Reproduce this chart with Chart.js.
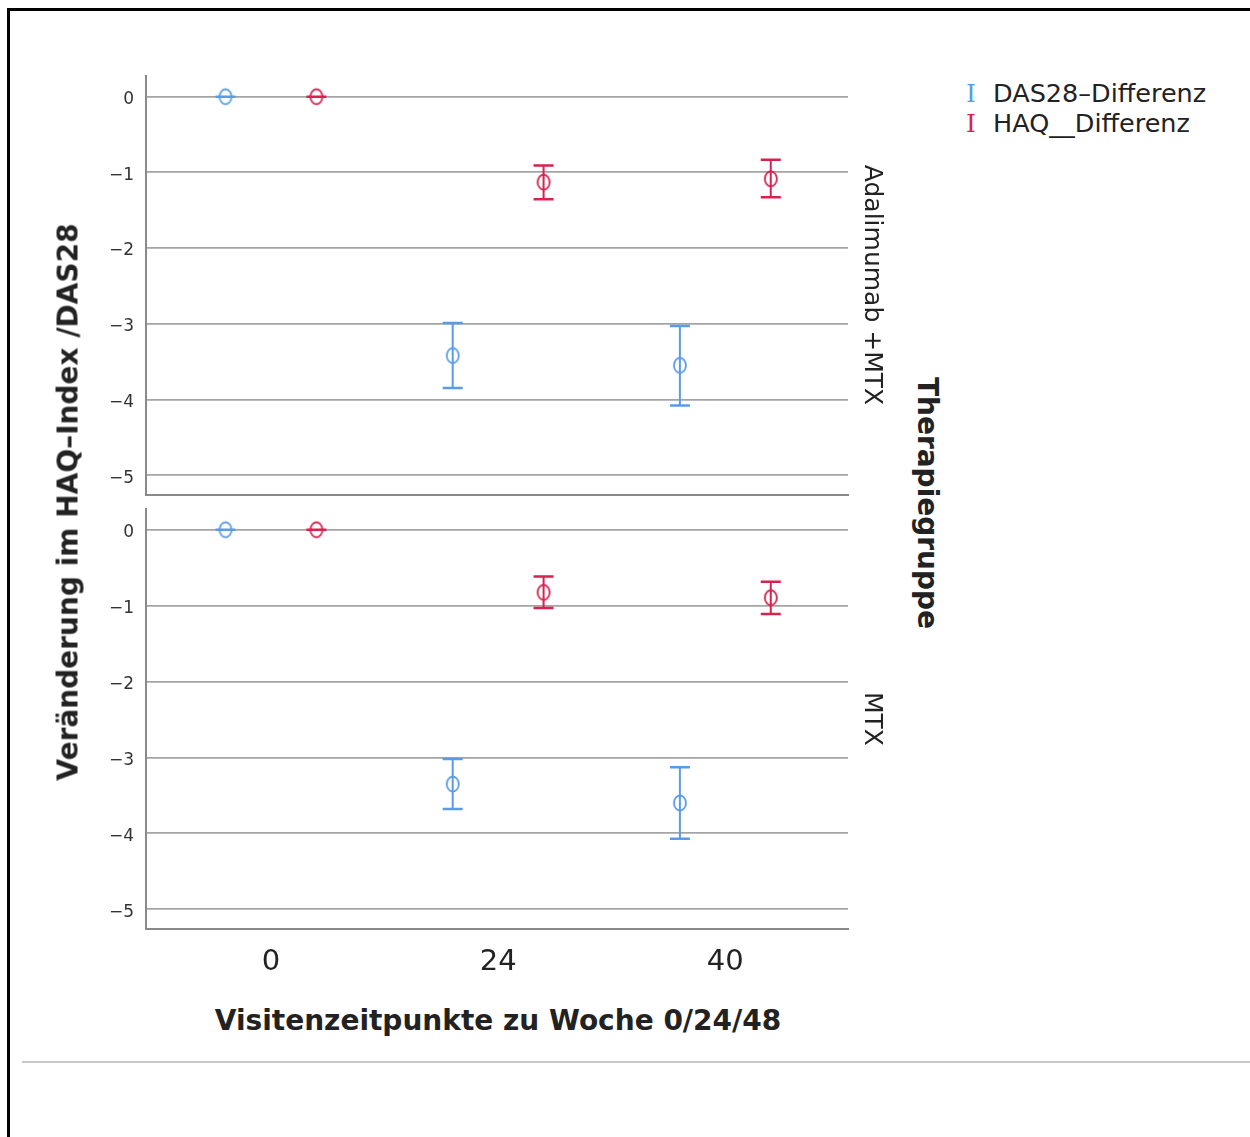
<!DOCTYPE html>
<html>
<head>
<meta charset="utf-8">
<script src="https://cdn.jsdelivr.net/npm/chart.js@4.4.1/dist/chart.umd.min.js"></script>
<style>
  body { margin: 0; background: #fff; width: 1250px; height: 1137px; position: relative; overflow: hidden; font-family: "DejaVu Sans", sans-serif; color: #222; }
  .abs { position: absolute; }
  .rot { position: absolute; white-space: nowrap; transform: translate(-50%, -50%) rotate(90deg); }
  .rotl { position: absolute; white-space: nowrap; transform: translate(-50%, -50%) rotate(-90deg); }
  .legend-row { position: absolute; left: 966px; font-size: 25.5px; white-space: nowrap; line-height: 30px; }
  .legend-row .ibar { font-family: "DejaVu Serif", serif; font-size: 25px; display: inline-block; width: 27px; }
</style>
</head>
<body>
<div class="abs" style="left:7px;top:8px;width:1243px;height:3px;background:#000"></div>
<div class="abs" style="left:7px;top:8px;width:3px;height:1129px;background:#000"></div>
<div class="abs" style="left:22px;top:1061px;width:1228px;height:2px;background:#c8c8c8"></div>

<canvas id="topChart" class="abs" width="870" height="463" style="left:0;top:54px"></canvas>
<canvas id="botChart" class="abs" width="870" height="502" style="left:0;top:487px"></canvas>

<div class="rotl" style="left:68px;top:502px;font-size:28px;font-weight:bold">Veränderung im HAQ–Index /DAS28</div>
<div class="rot" style="left:873px;top:285px;font-size:25px">Adalimumab +MTX</div>
<div class="rot" style="left:873px;top:719px;font-size:25px">MTX</div>
<div class="rot" style="left:927px;top:503px;font-size:28px;font-weight:bold">Therapiegruppe</div>
<div class="abs" style="left:498px;top:1020px;transform:translate(-50%,-50%);white-space:nowrap;font-size:28px;font-weight:bold">Visitenzeitpunkte zu Woche 0/24/48</div>

<div class="legend-row" style="top:78px"><span class="ibar" style="color:#5a9be6">I</span>DAS28–Differenz</div>
<div class="legend-row" style="top:108px"><span class="ibar" style="color:#d7214e">I</span>HAQ__Differenz</div>

<script>
const weeks = ['0', '24', '40'];
const yTicks = [0, -1, -2, -3, -4, -5];

// Adalimumab + MTX
const dasAdaMean = [0, -3.42, -3.55];
const dasAdaLow = [0, -3.85, -4.08];
const dasAdaHigh = [0, -2.99, -3.03];
const haqAdaMean = [0, -1.13, -1.085];
const haqAdaLow = [0, -1.355, -1.33];
const haqAdaHigh = [0, -0.91, -0.835];

// MTX
const dasMtxMean = [0, -3.35, -3.6];
const dasMtxLow = [0, -3.68, -4.07];
const dasMtxHigh = [0, -3.02, -3.13];
const haqMtxMean = [0, -0.825, -0.895];
const haqMtxLow = [0, -1.03, -1.11];
const haqMtxHigh = [0, -0.617, -0.685];

const blue = '#5a9be6';
const red = '#d7214e';
const dodge = 0.2;

function makeMarker(color) {
    const c = document.createElement('canvas');
    c.width = 16; c.height = 20;
    const g = c.getContext('2d');
    g.strokeStyle = color;
    g.lineWidth = 1.8;
    g.beginPath();
    g.ellipse(8, 10, 6, 7.5, 0, 0, Math.PI * 2);
    g.stroke();
    return c;
}

function series(mean, low, high, shift, color) {
    return {
        data: mean.map((v, i) => ({ x: i + shift, y: v })),
        errLow: low,
        errHigh: high,
        borderColor: color,
        backgroundColor: color,
        pointStyle: makeMarker(color),
        showLine: false
    };
}

// vertical error bars with caps
const errorBars = {
    id: 'errorBars',
    afterDatasetsDraw(chart) {
        const ctx = chart.ctx;
        const xs = chart.scales.x, ys = chart.scales.y;
        chart.data.datasets.forEach(ds => {
            ctx.save();
            ctx.strokeStyle = ds.borderColor;
            ds.data.forEach((p, i) => {
                const px = xs.getPixelForValue(p.x);
                const yl = ys.getPixelForValue(ds.errLow[i]);
                const yh = ys.getPixelForValue(ds.errHigh[i]);
                ctx.lineWidth = 2;
                ctx.beginPath();
                ctx.moveTo(px, yl); ctx.lineTo(px, yh);
                ctx.stroke();
                ctx.lineWidth = 2.5;
                ctx.beginPath();
                ctx.moveTo(px - 10, yl); ctx.lineTo(px + 10, yl);
                ctx.moveTo(px - 10, yh); ctx.lineTo(px + 10, yh);
                ctx.stroke();
            });
            ctx.restore();
        });
    }
};

function buildPanel(id, das, haq, showX, pad) {
    const ctx = document.getElementById(id).getContext('2d');
    return new Chart(ctx, {
        type: 'scatter',
        data: {
            datasets: [
                series(das[0], das[1], das[2], -dodge, blue),
                series(haq[0], haq[1], haq[2], dodge, red)
            ]
        },
        options: {
            responsive: false,
            animation: false,
            layout: { padding: pad },
            plugins: { legend: { display: false }, tooltip: { enabled: false } },
            scales: {
                x: {
                    type: 'linear',
                    min: -0.55,
                    max: 2.54,
                    afterBuildTicks: s => { s.ticks = weeks.map((w, i) => ({ value: i })); },
                    afterFit: s => { s.height = showX ? 60 : 0; },
                    grid: { display: false, drawTicks: false },
                    border: { display: true, color: '#8a8a8a', width: 2 },
                    ticks: {
                        display: showX,
                        padding: 16,
                        color: '#222',
                        font: { family: 'DejaVu Sans', size: 29 },
                        callback: (v, i) => weeks[i]
                    }
                },
                y: {
                    min: -5.26,
                    max: 0.27,
                    afterBuildTicks: s => { s.ticks = yTicks.map(v => ({ value: v })); },
                    afterFit: s => { s.width = 146; },
                    grid: { color: '#a4a4a4', lineWidth: 1.7, drawTicks: false },
                    border: { display: true, color: '#8a8a8a', width: 2 },
                    ticks: {
                        padding: 12,
                        labelOffset: 3,
                        color: '#333',
                        font: { family: 'DejaVu Sans', size: 17 },
                        callback: v => (v < 0 ? '\u2212' + Math.abs(v) : String(v))
                    }
                }
            }
        },
        plugins: [errorBars]
    });
}

buildPanel('topChart',
    [dasAdaMean, dasAdaLow, dasAdaHigh],
    [haqAdaMean, haqAdaLow, haqAdaHigh],
    false, { top: 0, bottom: 0, left: 0, right: 22 });

buildPanel('botChart',
    [dasMtxMean, dasMtxLow, dasMtxHigh],
    [haqMtxMean, haqMtxLow, haqMtxHigh],
    true, { top: 0, bottom: 0, left: 0, right: 22 });
</script>
</body>
</html>
